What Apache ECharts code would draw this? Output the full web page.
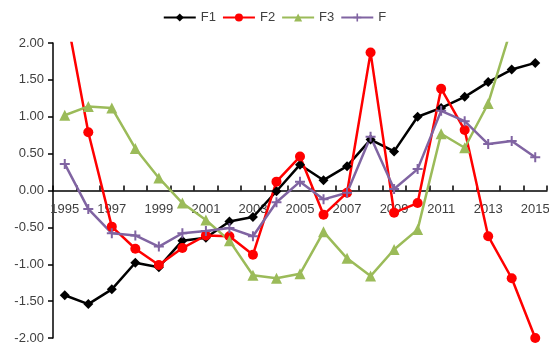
<!DOCTYPE html>
<html>
<head>
<meta charset="utf-8">
<script src="https://cdn.jsdelivr.net/npm/echarts@6/dist/echarts.min.js"></script>
<style>
  html, body { margin: 0; padding: 0; background: #fff; }
  #chart { width: 549px; height: 347px; }
</style>
</head>
<body>
<div id="chart"></div>
<script>
// Years on the category axis
const years = ['1995','1996','1997','1998','1999','2000','2001','2002','2003','2004','2005',
               '2006','2007','2008','2009','2010','2011','2012','2013','2014','2015'];

// Factor scores per year
const f1 = [-1.42,-1.54,-1.34,-0.98,-1.04,-0.68,-0.64,-0.42,-0.36,-0.01,0.35,
            0.14,0.33,0.69,0.53,1.00,1.12,1.27,1.47,1.64,1.73];
const f2 = [2.50,0.79,-0.49,-0.79,-1.01,-0.78,-0.61,-0.62,-0.87,0.12,0.46,
            -0.33,-0.03,1.87,-0.30,-0.17,1.38,0.82,-0.62,-1.19,-2.00];
const f3 = [1.02,1.14,1.12,0.57,0.17,-0.17,-0.40,-0.68,-1.15,-1.19,-1.13,
            -0.56,-0.92,-1.16,-0.80,-0.53,0.77,0.58,1.18,2.22,2.50];
const fTotal = [0.36,-0.25,-0.58,-0.61,-0.76,-0.58,-0.55,-0.51,-0.62,-0.16,0.12,
                -0.12,-0.03,0.73,0.02,0.29,1.08,0.94,0.63,0.67,0.45];

const textColor = '#404040';
const fontFamily = 'Liberation Sans, Arial, sans-serif';
const plusPath = 'path://M4,0 L6,0 L6,4 L10,4 L10,6 L6,6 L6,10 L4,10 L4,6 L0,6 L0,4 L4,4 Z';

// Plot area (the value axis runs symmetrically from -2 to 2)
const gridTop = 43;
const gridBottom = 9;
const chartHeight = 347;
const plotHeight = chartHeight - gridTop - gridBottom;

function lineSeries(name, data, color, symbol, size) {
  return {
    name: name,
    type: 'line',
    data: data,
    symbol: symbol,
    symbolSize: size,
    showAllSymbol: true,
    clip: true,
    lineStyle: { color: color, width: 2.5 },
    itemStyle: { color: color, borderWidth: 0 },
    emphasis: { disabled: true },
    animation: false
  };
}

const chart = echarts.init(document.getElementById('chart'));
chart.setOption({
  animation: false,
  textStyle: { fontFamily: fontFamily },
  legend: {
    top: 6,
    left: 'center',
    itemWidth: 32,
    itemHeight: 10,
    itemGap: 6,
    textStyle: { color: textColor, fontSize: 13, fontFamily: fontFamily },
    data: ['F1', 'F2', 'F3', 'F']
  },
  grid: {
    left: 53, right: 2, top: gridTop, bottom: gridBottom,
    containLabel: false,
    outerBoundsMode: 'none'
  },
  xAxis: {
    type: 'category',
    data: years,
    boundaryGap: true,
    position: 'bottom',
    // the category axis sits on the zero line, halfway up the plot
    offset: -plotHeight / 2,
    axisLine: { onZero: false, lineStyle: { color: '#000', width: 1.5 } },
    axisTick: { show: true, inside: true, length: 5, interval: 0, lineStyle: { color: '#000', width: 1.5 } },
    axisLabel: { interval: 1, margin: 12, color: textColor, fontSize: 13, fontFamily: fontFamily },
    splitLine: { show: false }
  },
  yAxis: {
    type: 'value',
    min: -2,
    max: 2,
    interval: 0.5,
    axisLine: { show: true, lineStyle: { color: '#000', width: 1.5 } },
    axisTick: { show: true, length: 5, lineStyle: { color: '#000', width: 1.5 } },
    axisLabel: {
      margin: 9,
      color: textColor,
      fontSize: 13,
      fontFamily: fontFamily,
      formatter: v => v.toFixed(2)
    },
    splitLine: { show: false }
  },
  series: [
    lineSeries('F1', f1, '#000000', 'diamond', 10),
    lineSeries('F2', f2, '#FF0000', 'circle', 10),
    lineSeries('F3', f3, '#9BBB59', 'triangle', 11),
    lineSeries('F', fTotal, '#8064A2', plusPath, 10)
  ]
});
</script>
</body>
</html>
